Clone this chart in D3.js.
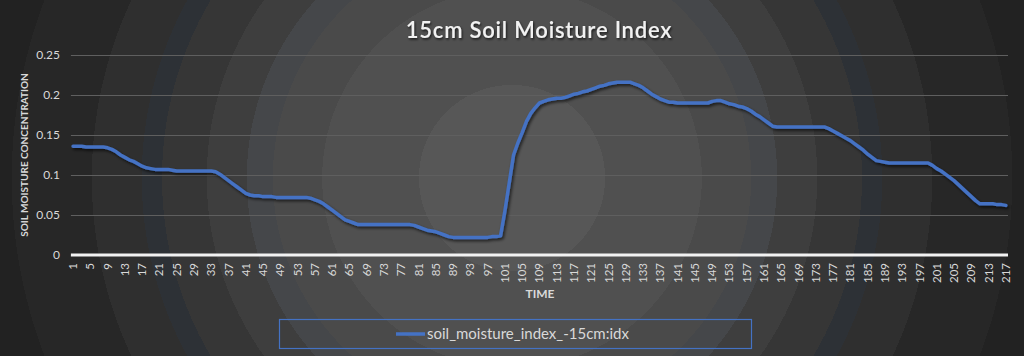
<!DOCTYPE html>
<html>
<head>
<meta charset="utf-8">
<script src="https://cdn.jsdelivr.net/npm/d3@7/dist/d3.min.js"></script>
<style>
  html, body { margin: 0; padding: 0; background: #222; }
  svg { display: block; }
</style>
</head>
<body>
<svg id="chart" width="1024" height="356"></svg>
<script>
const title = "15cm Soil Moisture Index";
const yAxisTitle = "SOIL MOISTURE CONCENTRATION";
const xAxisTitle = "TIME";
const seriesName = "soil_moisture_index_-15cm:idx";
const categories = d3.range(1, 218);
const xTickLabels = categories.filter(c => (c - 1) % 4 === 0);
const yTickValues = [0, 0.05, 0.1, 0.15, 0.2, 0.25];
const yTickLabels = ["0", "0.05", "0.1", "0.15", "0.2", "0.25"];
const moisture = [
  0.136,0.136,0.136,0.135,0.135,0.135,0.135,0.135,0.134,
  0.132,0.129,0.125,0.122,0.119,0.117,0.114,0.111,0.109,0.108,0.107,
  0.107,0.107,0.107,0.106,
  0.105,0.105,0.105,0.105,0.105,0.105,0.105,0.105,0.105,
  0.104,0.101,0.097,0.093,0.089,0.085,0.081,0.077,0.075,0.074,0.074,0.073,
  0.073,0.073,0.072,0.072,0.072,0.072,0.072,0.072,0.072,0.072,
  0.071,0.069,0.067,0.064,0.060,0.056,0.052,0.048,0.044,0.042,0.040,0.038,
  0.038,0.038,0.038,0.038,0.038,0.038,0.038,0.038,0.038,0.038,0.038,0.038,
  0.037,0.035,0.033,0.031,0.030,0.029,0.027,0.025,0.023,0.022,
  0.022,0.022,0.022,0.022,0.022,0.022,0.022,0.022,
  0.023,0.023,0.024,
  0.055,0.090,0.125,0.140,0.153,0.167,0.177,0.184,0.190,0.192,
  0.194,0.195,0.196,0.196,0.197,0.199,0.201,0.202,0.204,0.205,
  0.207,0.209,0.211,0.212,0.214,0.215,0.216,0.216,0.216,0.216,
  0.214,0.212,0.209,0.205,0.201,0.198,0.195,0.193,0.191,0.191,
  0.190,0.190,0.190,0.190,0.190,0.190,0.190,0.190,
  0.192,0.193,0.193,
  0.191,0.189,0.188,0.186,0.185,0.183,0.180,0.176,0.173,0.169,0.165,0.161,
  0.160,0.160,0.160,0.160,0.160,0.160,0.160,0.160,0.160,0.160,0.160,0.160,
  0.158,0.155,0.152,0.149,0.146,0.143,0.139,0.135,0.131,0.126,0.122,0.118,0.117,0.116,0.115,
  0.115,0.115,0.115,0.115,0.115,0.115,0.115,0.115,0.115,
  0.112,0.108,0.105,0.101,0.097,0.093,0.088,0.083,0.078,0.073,0.068,0.064,0.064,0.064,0.064,0.063,0.063,0.062
];

const W = 1024, H = 356;
const svg = d3.select("#chart");
const defs = svg.append("defs");

// background radial banded gradient
const bands = [
  [0.000, 0.179, "#575757"],
  [0.179, 0.365, "#505050"],
  [0.365, 0.460, "#4a4a4a"],
  [0.460, 0.510, "#45474a"],
  [0.510, 0.587, "#3e3e3e"],
  [0.587, 0.673, "#363636"],
  [0.673, 0.712, "#2d3136"],
  [0.712, 0.808, "#2f2f2f"],
  [0.808, 0.962, "#272727"],
  [0.962, 1.000, "#222222"]
];
const grad = defs.append("radialGradient").attr("id", "bg")
  .attr("gradientUnits", "userSpaceOnUse")
  .attr("cx", 512).attr("cy", 178).attr("r", 520)
  .attr("fx", 512).attr("fy", 178);
bands.forEach(b => {
  grad.append("stop").attr("offset", b[0]).attr("stop-color", b[2]);
  grad.append("stop").attr("offset", b[1]).attr("stop-color", b[2]);
});
const sh = defs.append("filter").attr("id", "shadow")
  .attr("x", "-5%").attr("y", "-20%").attr("width", "110%").attr("height", "140%");
sh.append("feDropShadow").attr("dx", 1.5).attr("dy", 2).attr("stdDeviation", 1.5)
  .attr("flood-color", "#000").attr("flood-opacity", 0.65);
const tsh = defs.append("filter").attr("id", "tshadow");
tsh.append("feDropShadow").attr("dx", 1).attr("dy", 1.5).attr("stdDeviation", 1)
  .attr("flood-color", "#000").attr("flood-opacity", 0.7);

svg.append("rect").attr("width", W).attr("height", H).attr("fill", "url(#bg)");

const font = "Lato, 'Open Sans', sans-serif";
const textColor = "#d9d9d9";

const x = d3.scaleBand().domain(categories).range([70.9, 1008]).padding(0);
const y = d3.scaleLinear().domain([0, 0.25]).range([255, 55]);
const cx = c => x(c) + x.bandwidth() / 2;

// gridlines
const gy = d3.axisLeft(y).tickValues(yTickValues).tickSize(-(1008 - 70.9)).tickFormat((d, i) => yTickLabels[i]);
const gAxis = svg.append("g").attr("transform", "translate(70.9,0)").call(gy);
gAxis.select(".domain").remove();
gAxis.selectAll(".tick line").attr("stroke", "#5f5f5f").attr("stroke-width", 1);
gAxis.selectAll(".tick text").attr("x", -11).attr("fill", textColor)
  .style("font-family", font).style("font-size", "12px");

// x axis
const xa = d3.axisBottom(x).tickValues(xTickLabels).tickSize(0);
const gX = svg.append("g").attr("transform", "translate(0,255)").call(xa);
gX.select(".domain").attr("stroke", "#f2f2f2").attr("stroke-width", 3).attr("d", "M70.9,0H1008");
gX.selectAll(".tick text")
  .attr("transform", "rotate(-90)")
  .attr("x", -8).attr("y", 0).attr("dy", "0.35em")
  .attr("text-anchor", "end")
  .attr("fill", textColor)
  .style("font-family", font).style("font-size", "11.5px");

// line
const line = d3.line().x((d, i) => cx(categories[i])).y(d => y(d));
svg.append("path").datum(moisture)
  .attr("d", line)
  .attr("fill", "none")
  .attr("stroke", "#4472c4")
  .attr("stroke-width", 3.5)
  .attr("stroke-linejoin", "round")
  .attr("stroke-linecap", "round")
  .attr("filter", "url(#shadow)");

// title
svg.append("text").attr("x", 539).attr("y", 38)
  .attr("text-anchor", "middle").attr("fill", "#f2f2f2")
  .attr("filter", "url(#tshadow)")
  .style("font-family", font).style("font-size", "22px").style("font-weight", "600")
  .style("letter-spacing", "0.8px")
  .text(title);

// axis titles
svg.append("text").attr("transform", "translate(28,155) rotate(-90)")
  .attr("text-anchor", "middle").attr("fill", textColor)
  .style("font-family", font).style("font-size", "10px").style("font-weight", "bold")
  .text(yAxisTitle);
svg.append("text").attr("x", 540).attr("y", 298)
  .attr("text-anchor", "middle").attr("fill", textColor)
  .style("font-family", font).style("font-size", "12px").style("font-weight", "bold")
  .text(xAxisTitle);

// legend
const lg = svg.append("g");
lg.append("rect").attr("x", 279.5).attr("y", 319.5).attr("width", 472).attr("height", 29)
  .attr("fill", "none").attr("stroke", "#4472c4").attr("stroke-width", 1.2);
lg.append("line").attr("x1", 396).attr("x2", 425).attr("y1", 334).attr("y2", 334)
  .attr("stroke", "#4472c4").attr("stroke-width", 3.5);
lg.append("text").attr("x", 427).attr("y", 334).attr("dy", "0.35em")
  .attr("fill", textColor)
  .style("font-family", font).style("font-size", "15px")
  .text(seriesName);
</script>
</body>
</html>
